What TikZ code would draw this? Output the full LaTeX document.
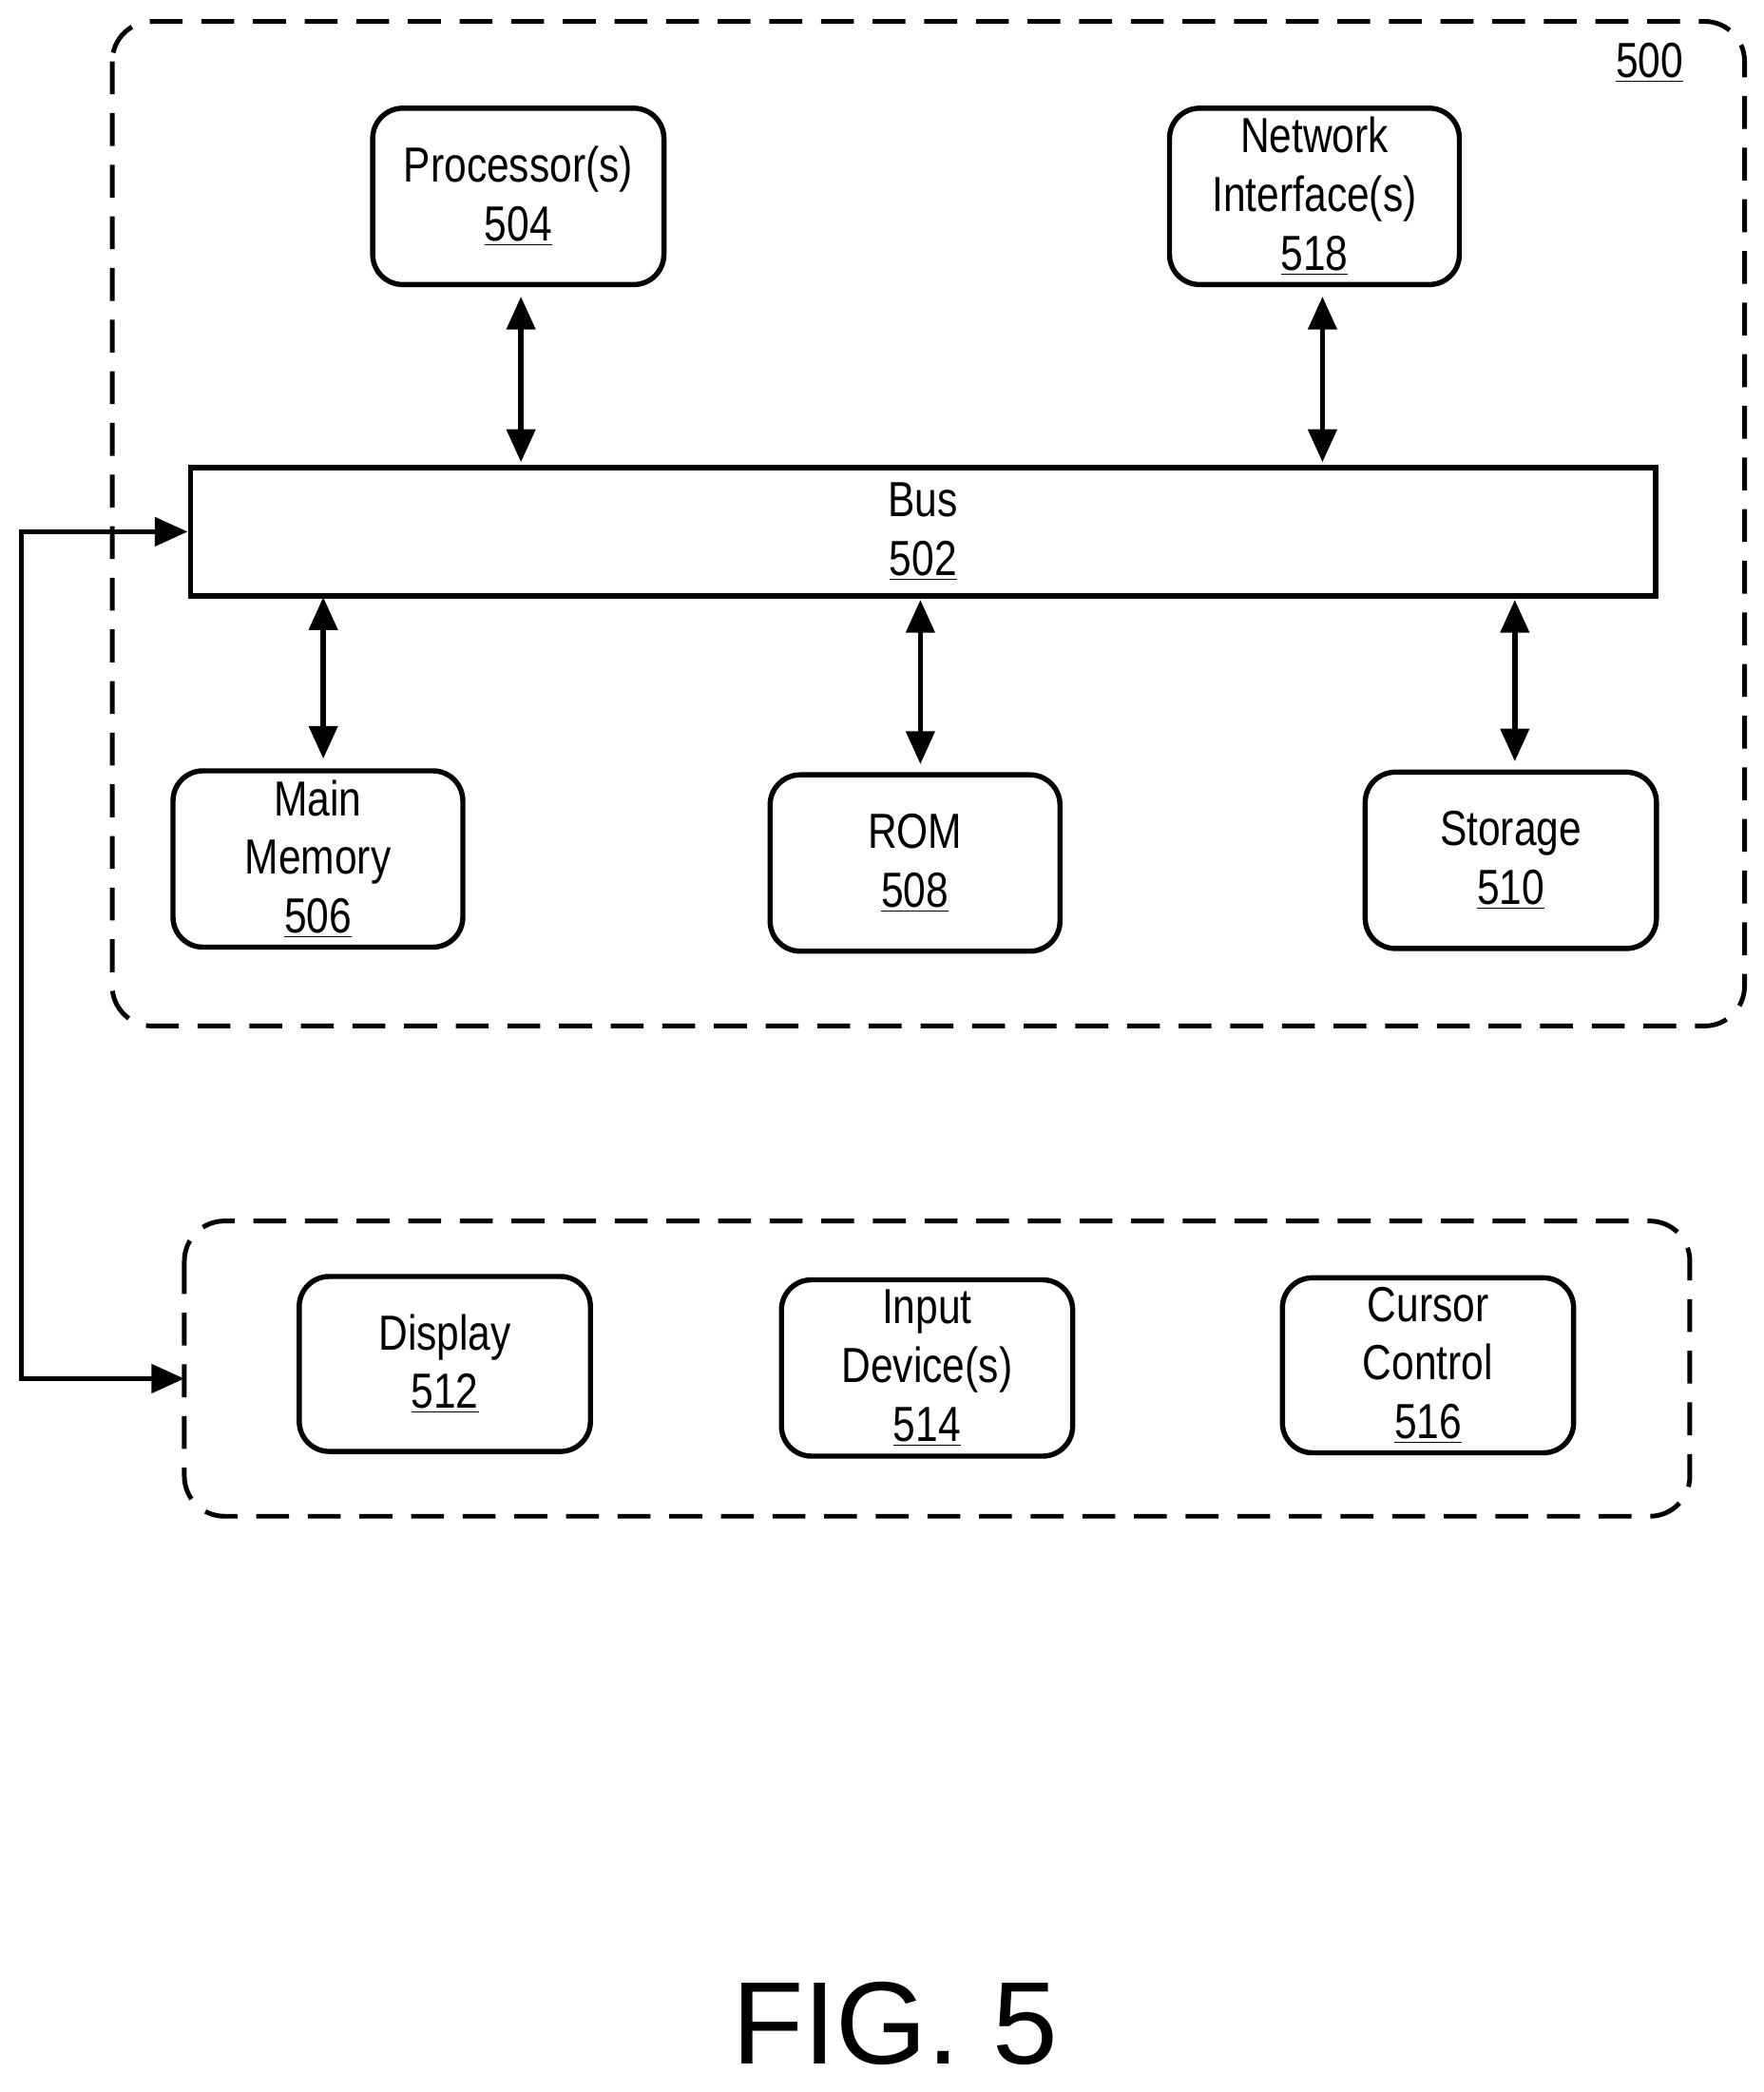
\documentclass[tikz,border=0pt]{standalone}
\usepackage{fontspec}
\setmainfont{Liberation Sans}[FakeStretch=0.82]
\newfontfamily\figfont{Liberation Sans}
\usetikzlibrary{arrows.meta}
\begin{document}
\begin{tikzpicture}[x=0.02cm,y=-0.02cm,
  box/.style={draw,line width=2.2pt,rounded corners=0.45cm,align=center,font=\fontsize{21}{25}\selectfont},
  dbox/.style={draw,line width=2pt,dash pattern=on 14pt off 8pt,rounded corners=0.6cm},
  arr/.style={line width=2.2pt,{Triangle[length=14pt,width=12pt]}-{Triangle[length=14pt,width=12pt]}},
  sarr/.style={line width=2.2pt,-{Triangle[length=14pt,width=12pt]}}]
\useasboundingbox (0,0) rectangle (1320,1566);
\draw[dbox] (84,16) rectangle (1306,768);
\node[font=\fontsize{21}{25}\selectfont] at (1235,47) {\underline{500}};
\node[box,minimum width=218*0.02cm,minimum height=132*0.02cm] (p) at (388,147) {Processor(s)\\\underline{504}};
\node[box,minimum width=217*0.02cm,minimum height=132*0.02cm] (n) at (984,147) {Network\\Interface(s)\\\underline{518}};
\node[draw,line width=2.2pt,minimum width=1097*0.02cm,minimum height=96*0.02cm,align=center,font=\fontsize{21}{25}\selectfont] (bus) at (691,398) {Bus\\\underline{502}};
\node[box,minimum width=217*0.02cm,minimum height=132*0.02cm] (m) at (238,643) {Main\\Memory\\\underline{506}};
\node[box,minimum width=217*0.02cm,minimum height=132*0.02cm] (r) at (685,646) {ROM\\\underline{508}};
\node[box,minimum width=218*0.02cm,minimum height=132*0.02cm] (s) at (1131,644) {Storage\\\underline{510}};
\draw[dbox] (138,914) rectangle (1265,1135);
\node[box,minimum width=218*0.02cm,minimum height=131*0.02cm] (d) at (333,1021) {Display\\\underline{512}};
\node[box,minimum width=218*0.02cm,minimum height=132*0.02cm] (i) at (694,1024) {Input\\Device(s)\\\underline{514}};
\node[box,minimum width=218*0.02cm,minimum height=131*0.02cm] (c) at (1069,1022) {Cursor\\Control\\\underline{516}};
\coordinate (lb) at (138,1032);
\draw[arr] (390,222) -- (390,346);
\draw[arr] (990,222) -- (990,346);
\draw[arr] (242,447) -- (242,568);
\draw[arr] (689,449) -- (689,572);
\draw[arr] (1134,449) -- (1134,570);
\draw[arr] (bus.west) -| (16,716) |- (lb);
\node[font=\figfont\fontsize{50}{52}\selectfont] at (670,1515) {FIG. 5};
\end{tikzpicture}
\end{document}
